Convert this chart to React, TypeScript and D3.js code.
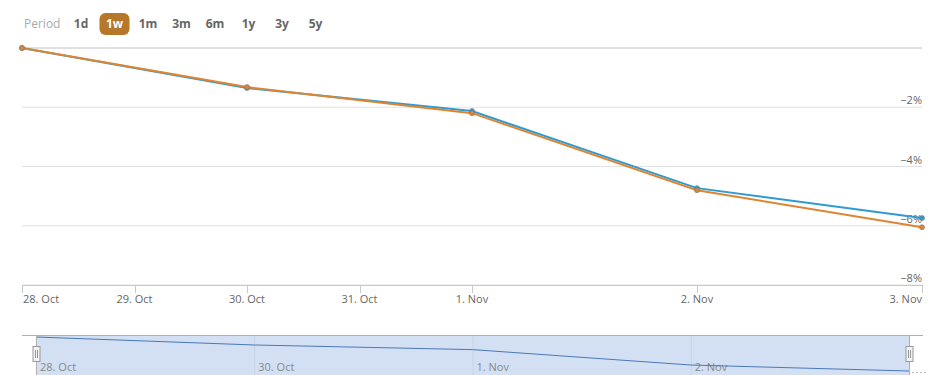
import React from 'react';
import * as d3 from 'd3';

// point positions on an ordinal axis (index), dates as labels
const dates = ['28. Oct', '30. Oct', '1. Nov', '2. Nov', '3. Nov'];
const blueValues = [0, -1.35, -2.13, -4.73, -5.74];
const orangeValues = [0, -1.32, -2.2, -4.8, -6.05];
const xTickPos = [0, 0.5, 1, 1.5, 2, 3, 4];
const xTickLabels = ['28. Oct', '29. Oct', '30. Oct', '31. Oct', '1. Nov', '2. Nov', '3. Nov'];
const yTicks = [0, -2, -4, -6, -8];
const periods = ['1d', '1w', '1m', '3m', '6m', '1y', '3y', '5y'];
const selectedPeriod = '1w';

const W = 929;
const H = 375;
const FONT = '"Open Sans", "DejaVu Sans", sans-serif';

export default function App() {
  const x = d3.scaleLinear().domain([0, 4]).range([22, 922]);
  const y = d3.scaleLinear().domain([-8, 0]).range([285, 48]);

  const nx = d3.scaleLinear().domain([0, 4]).range([36, 909]);
  const ny = d3.scaleLinear().domain([d3.min(blueValues) as number, 0]).range([371, 337]);

  const line = (vals: number[]) =>
    d3.line<number>().x((_, i) => x(i)).y(d => y(d))(vals) || '';
  const navLine = d3.line<number>().x((_, i) => nx(i)).y(d => ny(d))(blueValues) || '';

  return (
    <svg width={W} height={H} style={{ position: 'absolute', left: 0, top: 0, fontFamily: FONT }}>
      <rect width={W} height={H} fill="#fff" />

      {/* range selector */}
      <text x={24} y={28} fontSize={12} fill="#aaa">Period</text>
      {periods.map((p, i) => {
        const cx = 81 + i * 33.5;
        const sel = p === selectedPeriod;
        return (
          <g key={p}>
            {sel && <rect x={cx - 15} y={13} width={30} height={22} rx={6} fill="#b7772a" />}
            <text x={cx} y={28} fontSize={12} fontWeight="bold" textAnchor="middle" fill={sel ? '#fff' : '#666'}>{p}</text>
          </g>
        );
      })}

      {/* y grid + labels */}
      {yTicks.map(t => (
        <g key={t}>
          <line x1={22} x2={922} y1={y(t)} y2={y(t)} stroke={t === 0 ? '#c0c0c0' : '#e2e2e2'} strokeWidth={1} />
          {t !== 0 && (
            <text x={922} y={y(t) - 3} fontSize={11} textAnchor="end" fill="#666">{`\u2212${Math.abs(t)}%`}</text>
          )}
        </g>
      ))}

      {/* x axis */}
      <line x1={22} x2={922} y1={285.5} y2={285.5} stroke="#c8c8c8" />
      {xTickPos.map((p, i) => (
        <g key={p}>
          <line x1={Math.round(x(p)) + 0.5} x2={Math.round(x(p)) + 0.5} y1={285} y2={293} stroke="#c8c8c8" />
          <text
            x={i === 0 ? x(p) + 1 : x(p)}
            y={303}
            fontSize={11}
            fill="#666"
            textAnchor={i === 0 ? 'start' : i === xTickPos.length - 1 ? 'end' : 'middle'}
          >
            {xTickLabels[i]}
          </text>
        </g>
      ))}

      {/* series */}
      <path d={line(blueValues)} fill="none" stroke="#2f9bcf" strokeWidth={2} />
      <path d={line(orangeValues)} fill="none" stroke="#de8533" strokeWidth={2} />
      {blueValues.map((v, i) => (
        <circle key={'b' + i} cx={x(i)} cy={y(v)} r={2.5} fill="#2f9bcf" stroke="#777" strokeWidth={0.6} />
      ))}
      {orangeValues.map((v, i) => (
        <circle key={'o' + i} cx={x(i)} cy={y(v)} r={2.5} fill="#de8533" stroke="#777" strokeWidth={0.6} />
      ))}

      {/* navigator */}
      <rect x={nx(0)} y={335} width={nx(4) - nx(0)} height={40} fill="#d3e0f3" />
      {[0, 1, 2, 3].map(i => (
        <g key={'n' + i}>
          {i > 0 && <line x1={nx(i) + 0.5} x2={nx(i) + 0.5} y1={335} y2={375} stroke="#c6d3e6" />}
          <text x={nx(i) + 4} y={371} fontSize={11} fill="#888">{dates[i]}</text>
        </g>
      ))}
      <path d={navLine} fill="none" stroke="#4a78b5" strokeWidth={1} />
      <line x1={22} x2={923} y1={335.5} y2={335.5} stroke="#b0b0b0" />
      <line x1={nx(0) + 0.5} x2={nx(0) + 0.5} y1={335} y2={375} stroke="#b0b0b0" />
      <line x1={nx(4) + 0.5} x2={nx(4) + 0.5} y1={335} y2={375} stroke="#b0b0b0" />
      {[nx(0), nx(4)].map((hx, i) => (
        <g key={'h' + i}>
          <rect x={hx - 3} y={346.5} width={7} height={15} fill="#f2f2f2" stroke="#999" strokeWidth={1} />
          <line x1={hx - 0.5} x2={hx - 0.5} y1={350} y2={358} stroke="#999" />
          <line x1={hx + 1.5} x2={hx + 1.5} y1={350} y2={358} stroke="#999" />
        </g>
      ))}
      <line x1={912} x2={926} y1={372.5} y2={372.5} stroke="#bbb" strokeDasharray="2,2" />
    </svg>
  );
}
